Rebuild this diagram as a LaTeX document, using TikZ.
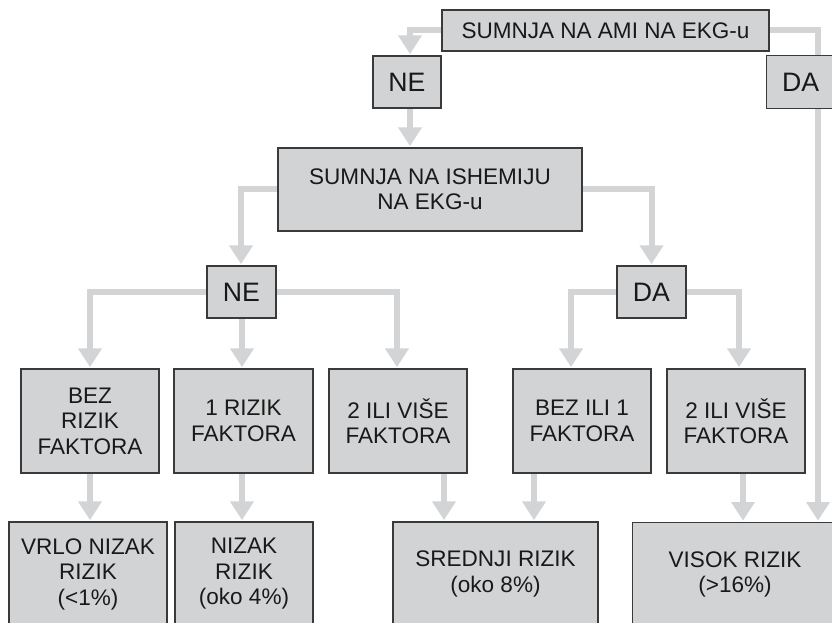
\documentclass[tikz,border=0pt]{standalone}
\usepackage{fontspec}
\setmainfont{Liberation Sans}
\usetikzlibrary{arrows.meta,backgrounds}
\definecolor{boxfill}{HTML}{D1D3D4}
\definecolor{connc}{HTML}{D3D4D6}
\definecolor{boxdraw}{HTML}{3A3A3A}
\tikzset{
  box/.style={draw=boxdraw, line width=0.8pt, fill=boxfill, inner sep=0pt, align=center,
    font=\fontsize{16.9}{19.1}\selectfont, text=black!90},
  smallbox/.style={box},
  bigbox/.style={box, font=\fontsize{20}{22}\selectfont},
  conn/.style={draw=connc, line width=4.5pt},
  arr/.style={conn, -{Triangle[width=17pt,length=14pt]}, shorten >=1pt},
}
\begin{document}
\begin{tikzpicture}[x=0.75pt,y=-0.75pt]
\path[use as bounding box, clip] (0,0) rectangle (832,623);
% nodes
\node[smallbox, minimum width=327*0.75pt, minimum height=41*0.75pt] (top) at (605.5,30.5) {SUMNJA NA AMI NA EKG-u};
\node[bigbox, minimum width=68*0.75pt, minimum height=52*0.75pt] (ne1) at (407,82) {NE};
\node[bigbox, minimum width=68*0.75pt, minimum height=53*0.75pt, anchor=north west] (da1) at (766,55) {DA};
\node[box, minimum width=304*0.75pt, minimum height=83*0.75pt] (ish) at (430,189.5) {SUMNJA NA ISHEMIJU\\NA EKG-u};
\node[bigbox, minimum width=69*0.75pt, minimum height=52*0.75pt] (ne2) at (241.5,292) {NE};
\node[bigbox, minimum width=69*0.75pt, minimum height=52*0.75pt] (da2) at (651.5,292) {DA};
\node[box, minimum width=138*0.75pt, minimum height=104*0.75pt] (b1) at (90,421) {BEZ\\RIZIK\\FAKTORA};
\node[box, minimum width=139*0.75pt, minimum height=104*0.75pt] (b2) at (243.5,421) {1 RIZIK\\FAKTORA};
\node[box, minimum width=138*0.75pt, minimum height=104*0.75pt] (b3) at (398,421) {2 ILI VIŠE\\FAKTORA};
\node[box, minimum width=138*0.75pt, minimum height=104*0.75pt] (b4) at (582,421) {BEZ ILI 1\\FAKTORA};
\node[box, minimum width=138*0.75pt, minimum height=104*0.75pt] (b5) at (736,421) {2 ILI VIŠE\\FAKTORA};
\node[box, minimum width=158*0.75pt, minimum height=104*0.75pt] (c1) at (88,574) {VRLO NIZAK\\RIZIK\\(<1\%)};
\node[box, minimum width=138*0.75pt, minimum height=104*0.75pt] (c2) at (244,574) {NIZAK\\RIZIK\\(oko 4\%)};
\node[box, minimum width=205*0.75pt, minimum height=104*0.75pt] (c3) at (495.5,574) {SREDNJI RIZIK\\(oko 8\%)};
\node[box, minimum width=205*0.75pt, minimum height=104*0.75pt, anchor=north west] (c4) at (632,522) {VISOK RIZIK\\(>16\%)};
% helper coordinates
\coordinate (xne1) at (410,0);
\coordinate (xda1) at (818,0);
\coordinate (xne2) at (241,0);
\coordinate (xda2l) at (571,0);
\coordinate (xda2r) at (739,0);
\coordinate (xb1) at (90,0);
\coordinate (xb2) at (242,0);
\coordinate (xb3) at (397,0);
\coordinate (xc3a) at (444,0);
\coordinate (xc3b) at (534,0);
\coordinate (xc4) at (743,0);
\begin{pgfonlayer}{background}
\draw[arr] (top.west) -| (ne1.north -| xne1);
\draw[arr] (top.east) -| (c4.north -| xda1);
\draw[arr] (ne1.south -| xne1) -- (ish.north -| xne1);
\draw[arr] (ish.west) -| (ne2.north -| xne2);
\draw[arr] (ish.east) -| (da2.north);
\draw[arr] (ne2.west) -| (b1.north -| xb1);
\draw[arr] (ne2.south -| xb2) -- (b2.north -| xb2);
\draw[arr] (ne2.east) -| (b3.north -| xb3);
\draw[arr] (da2.west) -| (b4.north -| xda2l);
\draw[arr] (da2.east) -| (b5.north -| xda2r);
\draw[arr] (b1.south -| xb1) -- (c1.north -| xb1);
\draw[arr] (b2.south -| xb2) -- (c2.north -| xb2);
\draw[arr] (b3.south -| xc3a) -- (c3.north -| xc3a);
\draw[arr] (b4.south -| xc3b) -- (c3.north -| xc3b);
\draw[arr] (b5.south -| xc4) -- (c4.north -| xc4);
\end{pgfonlayer}
\end{tikzpicture}
\end{document}
